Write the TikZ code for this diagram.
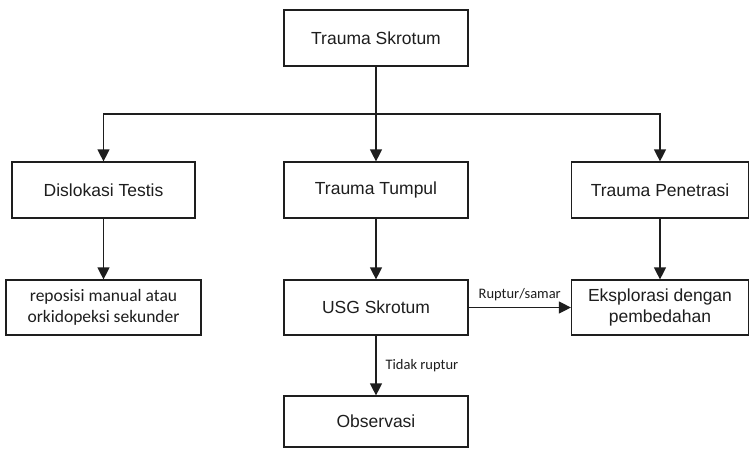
\documentclass[tikz,border=0pt]{standalone}
\usepackage{fontspec}
\setmainfont{Liberation Sans}
\newfontfamily\labelfont{Carlito}
\usetikzlibrary{arrows.meta}
\definecolor{ink}{HTML}{1E1E1E}
\begin{document}
\begin{tikzpicture}[x=1pt,y=-1pt,
  box/.style={draw=ink,line width=1.2pt,rectangle,inner sep=0pt,align=center,
    text=ink,font=\fontsize{17.5}{20}\selectfont},
  smallbox/.style={box,font=\labelfont\fontsize{17.5}{21}\selectfont},
  arr/.style={draw=ink,line width=1.2pt,-{Triangle[width=12pt,length=12pt]}},
  lbl/.style={text=ink,font=\labelfont\fontsize{14.5}{16}\selectfont,inner sep=0pt}]
\useasboundingbox (0,0) rectangle (750,448);
\fill[white] (0,0) rectangle (750,448);

% boxes (centre, width, height in px)
\node[box,minimum width=184pt,minimum height=56pt] (ts) at (376,38) {Trauma Skrotum};
\node[box,minimum width=183pt,minimum height=56pt] (dt) at (103.5,190) {Dislokasi Testis};
\node[box,minimum width=184pt,minimum height=56pt] (tt) at (376,190) {Trauma Tumpul};
\node[box,minimum width=177pt,minimum height=56pt] (tp) at (660,190) {Trauma Penetrasi};
\node[smallbox,minimum width=195pt,minimum height=55pt] (rm) at (103.5,307.5)
  {reposisi manual atau\\orkidopeksi sekunder};
\node[box,minimum width=184pt,minimum height=55pt] (usg) at (376,307.5) {USG Skrotum};
\node[box,minimum width=177pt,minimum height=55pt,font=\fontsize{17.5}{21}\selectfont] (ep) at (660,307.5)
  {Eksplorasi dengan\\pembedahan};
\node[box,minimum width=184pt,minimum height=51pt] (ob) at (376,421.5) {Observasi};

% branching from the top box
\coordinate (split) at (376,114);
\draw[arr] (ts.south) -- (tt.north);
\draw[arr] (ts.south) -- (split) -| (dt.north);
\draw[arr] (ts.south) -- (split) -| (tp.north);

% vertical flows
\draw[arr] (dt.south) -- (rm.north);
\draw[arr] (tt.south) -- (usg.north);
\draw[arr] (tp.south) -- (ep.north);
\draw[arr] (usg.east) -- node[lbl,above=6pt] {Ruptur/samar} (ep.west);
\draw[arr] (usg.south) -- node[lbl,right=9pt] {Tidak ruptur} (ob.north);
\end{tikzpicture}
\end{document}
